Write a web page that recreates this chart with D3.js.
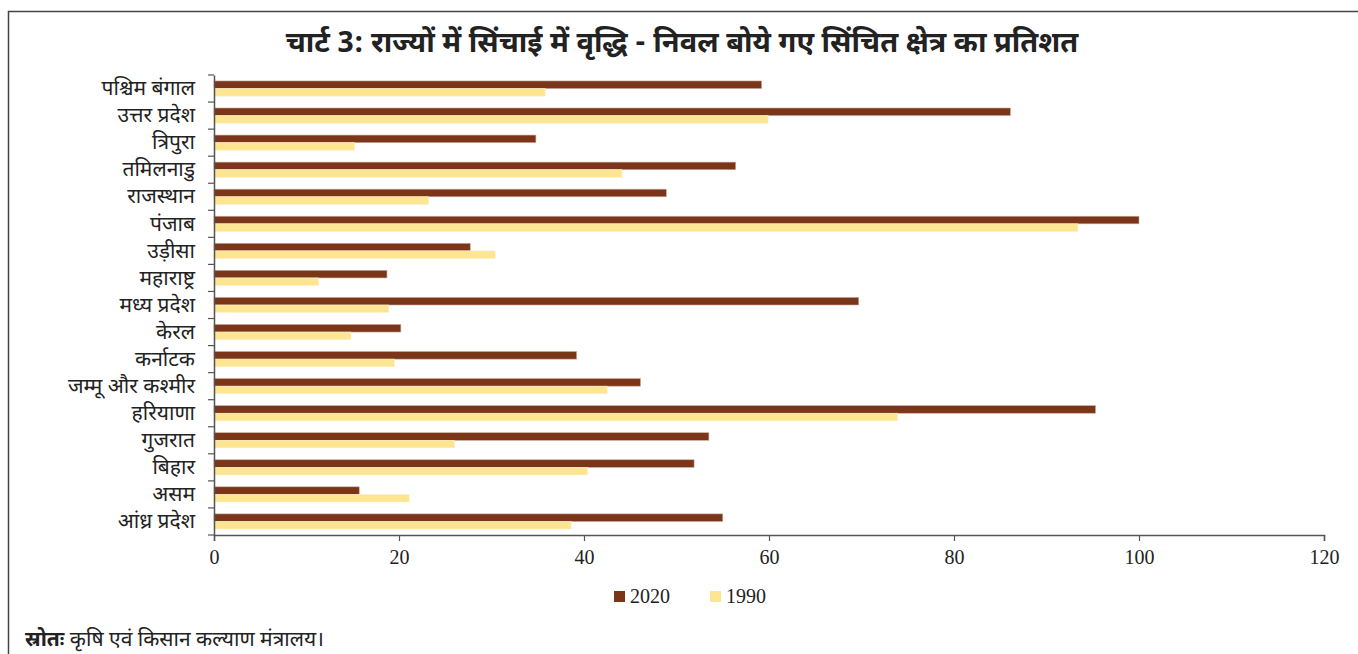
<!DOCTYPE html>
<html>
<head>
<meta charset="utf-8">
<script src="https://cdn.jsdelivr.net/npm/d3@7"></script>
<style>
  html, body { margin: 0; padding: 0; background: #fff; }
  svg { display: block; }
</style>
</head>
<body>
<svg id="chart" width="1358" height="654"></svg>
<script>
const states = ["पश्चिम बंगाल", "उत्तर प्रदेश", "त्रिपुरा", "तमिलनाडु", "राजस्थान", "पंजाब", "उड़ीसा", "महाराष्ट्र", "मध्य प्रदेश", "केरल", "कर्नाटक", "जम्मू और कश्मीर", "हरियाणा", "गुजरात", "बिहार", "असम", "आंध्र प्रदेश"];
const values2020 = [59.2, 86.1, 34.8, 56.4, 48.9, 100.0, 27.7, 18.7, 69.7, 20.2, 39.2, 46.1, 95.3, 53.5, 51.9, 15.7, 55.0];
const values1990 = [35.8, 59.9, 15.2, 44.1, 23.2, 93.4, 30.4, 11.3, 18.9, 14.8, 19.5, 42.5, 73.9, 26.0, 40.4, 21.1, 38.6];
const seriesNames = ["2020", "1990"];
const xTicks = [0, 20, 40, 60, 80, 100, 120];
const titleText = "चार्ट 3: राज्यों में सिंचाई में वृद्धि - निवल बोये गए सिंचित क्षेत्र का प्रतिशत";
const sourceLabel = "स्रोतः";
const sourceText = " कृषि एवं किसान कल्याण मंत्रालय।";

const colors = { "2020": "#7b3519", "1990": "#fde592" };
const devFont = "'Noto Sans Devanagari', 'Noto Sans', sans-serif";
const numFont = "'Liberation Serif', 'DejaVu Serif', serif";

const svg = d3.select("#chart");

// frame
svg.append("path")
  .attr("d", "M8.5,654 L8.5,11.5 L1358,11.5")
  .attr("fill", "none").attr("stroke", "#444").attr("stroke-width", 1.5);

// title
svg.append("text")
  .attr("x", 682).attr("y", 52)
  .attr("text-anchor", "middle")
  .attr("font-family", devFont)
  .attr("font-weight", "bold")
  .attr("font-size", 29)
  .attr("fill", "#222")
  .text(titleText);

const plotLeft = 214, plotRight = 1324, plotTop = 75, plotBottom = 535;

const x = d3.scaleLinear().domain([0, 120]).range([plotLeft, plotRight]);
const y = d3.scaleBand().domain(states).range([plotTop, plotBottom]).paddingInner(0.44).paddingOuter(0.22);
const ySub = d3.scaleBand().domain(seriesNames).range([0, y.bandwidth()]);

const rows = states.map((s, i) => ({ state: s, "2020": values2020[i], "1990": values1990[i] }));

const g = svg.append("g");
rows.forEach(r => {
  seriesNames.forEach(sn => {
    g.append("rect")
      .attr("x", x(0))
      .attr("y", y(r.state) + ySub(sn))
      .attr("width", x(r[sn]) - x(0))
      .attr("height", ySub.bandwidth())
      .attr("fill", colors[sn])
      .attr("stroke", sn === "2020" ? "#c9a89a" : "#fdf0c8")
      .attr("stroke-width", 0.6);
  });
});

// x axis
const xAxis = d3.axisBottom(x).tickValues(xTicks).tickSize(6).tickPadding(9).tickFormat(d3.format("d"));
const xg = svg.append("g").attr("transform", `translate(0,${plotBottom})`).call(xAxis);
xg.select(".domain").attr("stroke", "#555").attr("stroke-width", 1.5);
xg.selectAll(".tick line").attr("stroke", "#555").attr("stroke-width", 1.2);
xg.selectAll(".tick text").attr("font-family", numFont).attr("font-size", 20).attr("fill", "#222");

// y axis: labels
const yAxis = d3.axisLeft(y).tickSize(0).tickPadding(19);
const yg = svg.append("g").attr("transform", `translate(${plotLeft},0)`).call(yAxis);
yg.select(".domain").attr("stroke", "#555").attr("stroke-width", 1.5);
yg.selectAll(".tick text").attr("font-family", devFont).attr("font-size", 21).attr("fill", "#222");

// y axis boundary tick marks
const boundaries = d3.range(states.length + 1).map(i => plotTop + i * y.step());
svg.append("g").selectAll("line").data(boundaries).join("line")
  .attr("x1", plotLeft - 6).attr("x2", plotLeft)
  .attr("y1", d => d).attr("y2", d => d)
  .attr("stroke", "#555").attr("stroke-width", 1.2);

// legend
const legendX = [614, 710];
seriesNames.forEach((sn, i) => {
  svg.append("rect").attr("x", legendX[i]).attr("y", 591).attr("width", 11).attr("height", 11).attr("fill", colors[sn]);
  svg.append("text").attr("x", legendX[i] + 16).attr("y", 603)
    .attr("font-family", numFont).attr("font-size", 20).attr("fill", "#222").text(sn);
});

// source
const src = svg.append("text").attr("x", 25).attr("y", 646)
  .attr("font-family", devFont).attr("font-size", 21).attr("fill", "#222");
src.append("tspan").attr("font-weight", "bold").text(sourceLabel);
src.append("tspan").text(sourceText);
</script>
</body>
</html>
